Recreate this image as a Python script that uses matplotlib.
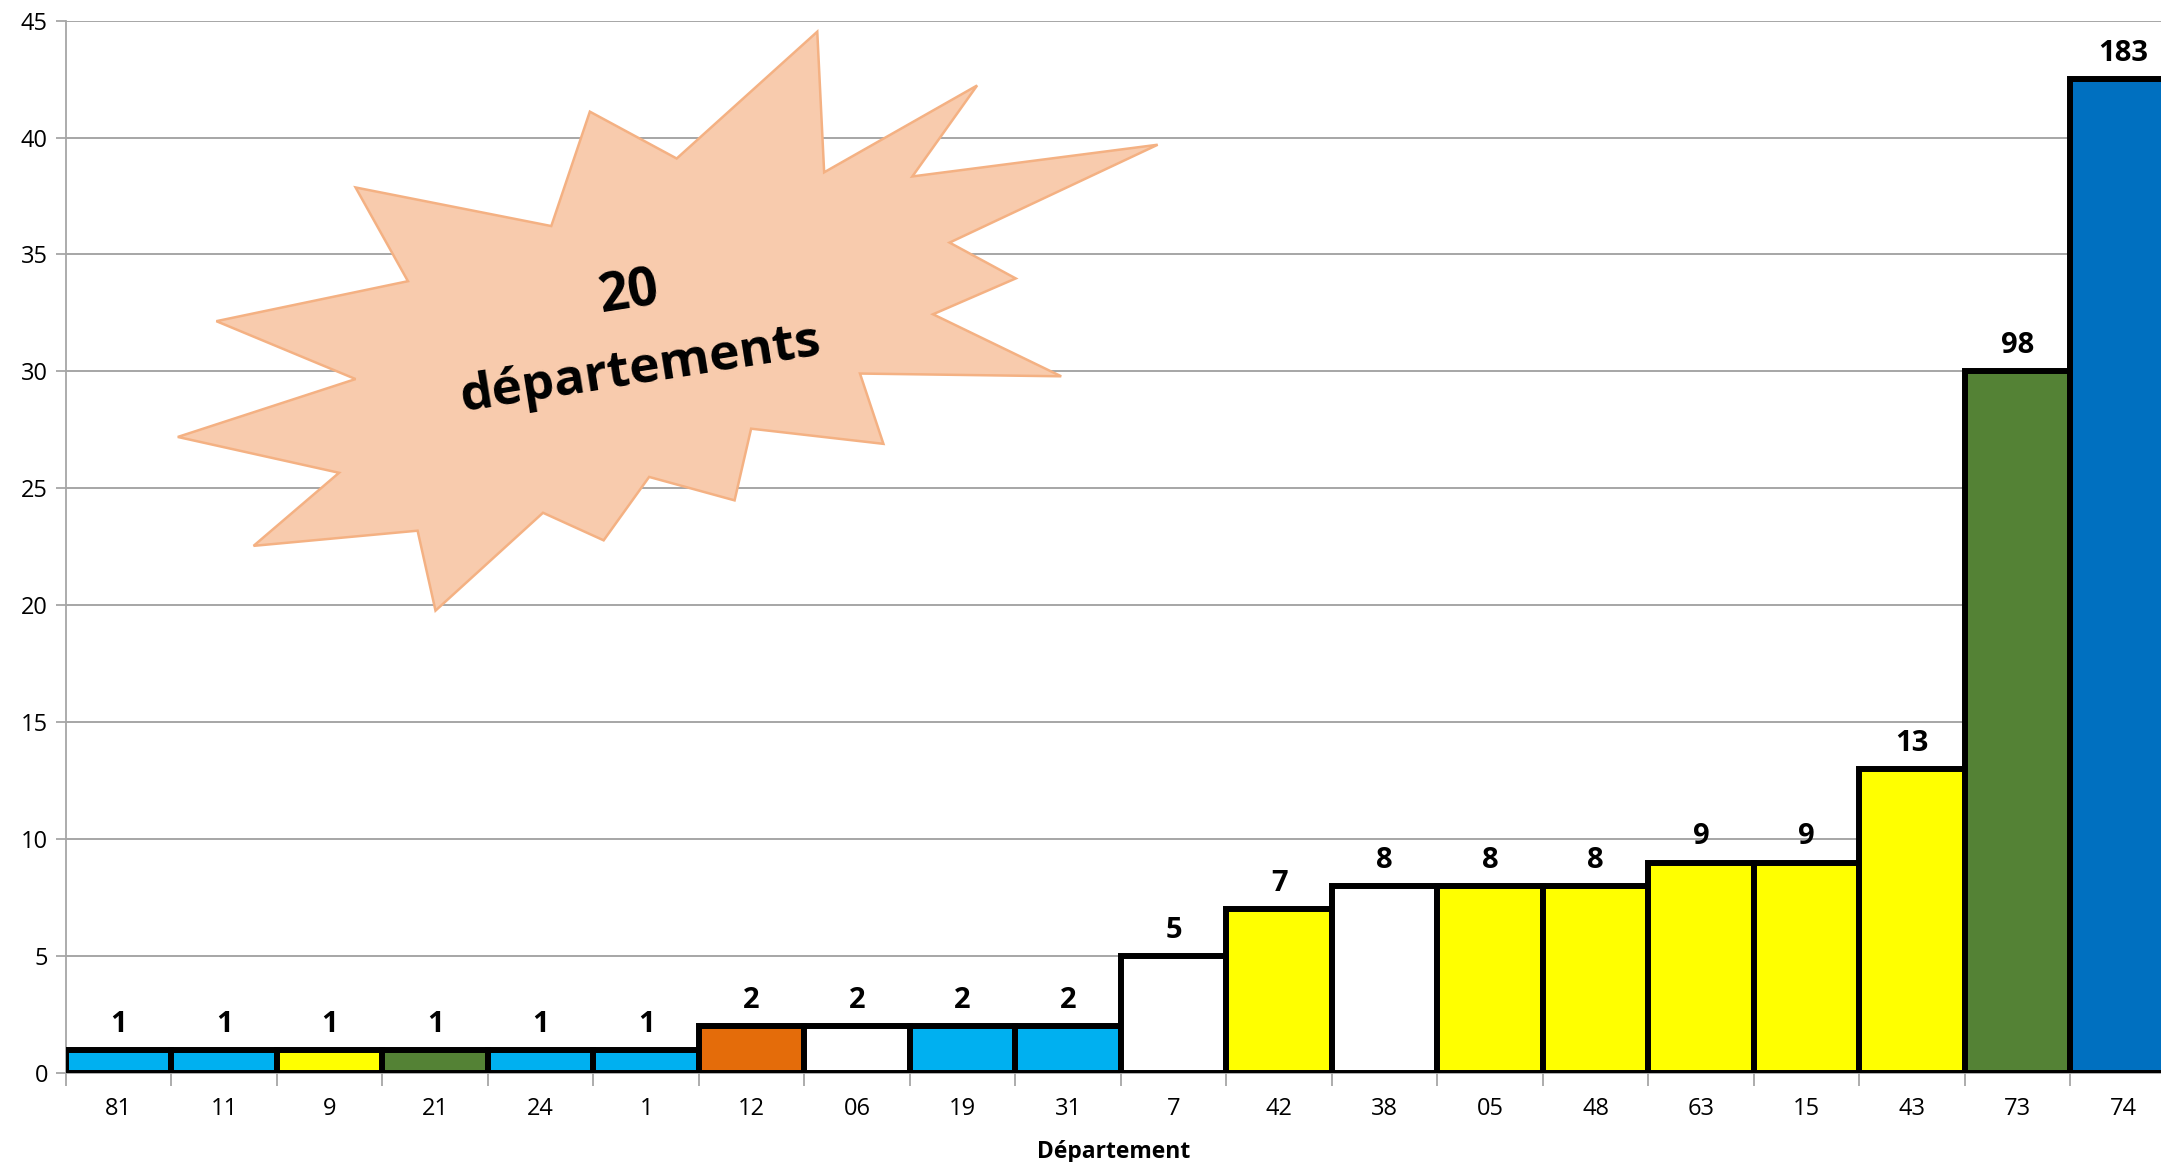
import matplotlib
matplotlib.use("Agg")
import matplotlib.pyplot as plt
from matplotlib.patches import Polygon

plt.rcParams['font.family'] = ['Open Sans', 'DejaVu Sans']

departements = ["81", "11", "9", "21", "24", "1", "12", "06", "19", "31",
                "7", "42", "38", "05", "48", "63", "15", "43", "73", "74"]
valeurs = [1, 1, 1, 1, 1, 1, 2, 2, 2, 2, 5, 7, 8, 8, 8, 9, 9, 13, 98, 183]
hauteurs = [1, 1, 1, 1, 1, 1, 2, 2, 2, 2, 5, 7, 8, 8, 8, 9, 9, 13, 30, 42.5]
couleurs = ["#00B0F0", "#00B0F0", "#FFFF00", "#548235", "#00B0F0", "#00B0F0",
            "#E46C0A", "#FFFFFF", "#00B0F0", "#00B0F0", "#FFFFFF", "#FFFF00",
            "#FFFFFF", "#FFFF00", "#FFFF00", "#FFFF00", "#FFFF00", "#FFFF00",
            "#548235", "#0070C0"]
yticks = [0, 5, 10, 15, 20, 25, 30, 35, 40, 45]

W, H = 2161, 1162
fig = plt.figure(figsize=(W / 100, H / 100), dpi=100)
ax = fig.add_axes([66 / W, 1 - 1073 / H, 1 - 66 / W, (1073 - 20.6) / H])

x = list(range(len(departements)))
ax.bar(x, hauteurs, width=1.0, color=couleurs, edgecolor="black",
       linewidth=4.3, zorder=3, clip_on=True)
for xi, h, v in zip(x, hauteurs, valeurs):
    ax.annotate(str(v), (xi, h), xytext=(0, 8), textcoords="offset points",
                ha="center", va="bottom", fontsize=21, fontweight="bold",
                zorder=4)

ax.set_yticks(yticks)
ax.set_yticklabels([str(t) for t in yticks], fontsize=17)
ax.yaxis.grid(True, color="#A6A6A6", linewidth=1.4, zorder=0)
ax.set_axisbelow(True)

ax.set_xticks(x)
ax.set_xticklabels(departements, fontsize=17)
ax.set_xticks([i - 0.5 for i in range(len(departements) + 1)], minor=True)
ax.tick_params(axis="x", which="major", length=0, pad=17)
ax.tick_params(axis="x", which="minor", length=9, color="#A6A6A6", width=1.3)
ax.tick_params(axis="y", length=7, color="#A6A6A6", width=1.3, pad=6)
ax.set_xlabel("Département", fontsize=16.5, fontweight="bold", labelpad=14)
ax.set_xlim(-0.5, 19.36)
ax.set_ylim(0, 45)

for s in ["top", "right"]:
    ax.spines[s].set_visible(False)
ax.spines["left"].set_color("#A6A6A6")
ax.spines["left"].set_linewidth(1.3)
ax.spines["bottom"].set_color("#A6A6A6")
ax.spines["bottom"].set_linewidth(1.3)

# Decorative starburst (positions given in reference-image pixels of a 1568x843 view)
star = [(593, 23), (598, 125), (709, 62), (662, 128), (840, 105), (689, 176),
        (737, 202), (677, 228), (770, 273), (624, 271), (641, 322), (545, 311),
        (533, 363), (471, 346), (438, 392), (394, 372), (316, 443), (303, 385),
        (184, 396), (246, 343), (129, 317), (258, 275), (157, 233), (296, 204),
        (258, 136), (400, 164), (428, 81), (491, 115)]
pts = [(px / 1568, 1 - py / 843) for px, py in star]
poly = Polygon(pts, closed=True, transform=fig.transFigure,
               facecolor="#F8CBAD", edgecolor="#F4B183", linewidth=1.8, zorder=5)
fig.add_artist(poly)
fig.text(457 / 1568, 1 - 213 / 843, "20", rotation=9, ha="center", va="center",
         rotation_mode="anchor", fontsize=38, fontweight="bold", zorder=6)
fig.text(465 / 1568, 1 - 268 / 843, "départements", rotation=9, ha="center",
         va="center", rotation_mode="anchor", fontsize=37, fontweight="bold",
         zorder=6)

fig.savefig("out.png", dpi=100)
